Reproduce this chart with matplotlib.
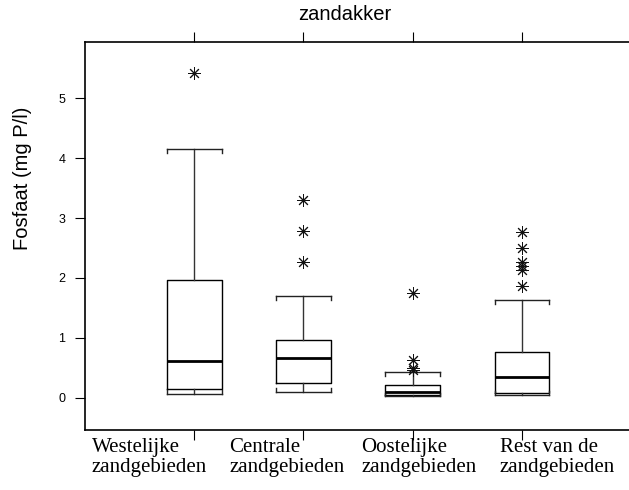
import matplotlib
matplotlib.use("Agg")
import matplotlib.pyplot as plt

# Box statistics (mg P/l)
labels = ["Westelijke\nzandgebieden", "Centrale\nzandgebieden",
          "Oostelijke\nzandgebieden", "Rest van de\nzandgebieden"]
whislo = [0.06, 0.09, 0.02, 0.04]
q1 = [0.14, 0.24, 0.05, 0.08]
med = [0.62, 0.66, 0.09, 0.35]
q3 = [1.97, 0.96, 0.21, 0.77]
whishi = [4.15, 1.70, 0.43, 1.63]
fliers = [
    [5.42],
    [2.27, 2.79, 3.30],
    [0.47, 0.50, 0.63, 1.74],
    [1.87, 2.14, 2.20, 2.27, 2.50, 2.76],
]
yticks = [0, 1, 2, 3, 4, 5]

fig = plt.figure(figsize=(6.29, 4.90), dpi=100)
ax = fig.add_axes([85 / 629, 1 - 430 / 490, 1 - 85 / 629, (430 - 42) / 490])

stats = []
for i in range(len(labels)):
    stats.append({"whislo": whislo[i], "q1": q1[i], "med": med[i], "q3": q3[i],
                  "whishi": whishi[i], "fliers": fliers[i]})

positions = [1, 2, 3, 4]
width = 0.5
ax.bxp(
    stats,
    positions=positions,
    widths=width,
    capwidths=width,
    showfliers=True,
    boxprops={"color": "black", "linewidth": 1.0},
    whiskerprops={"color": "#333333", "linewidth": 1.0},
    capprops={"color": "#222222", "linewidth": 1.0},
    medianprops={"color": "black", "linewidth": 2.0},
    flierprops={"marker": (8, 2, 0), "markersize": 9, "markeredgecolor": "#111111",
                "markeredgewidth": 0.7, "linestyle": "none"},
)

# small bracket ends on the caps
tick_len = 0.065
for p, lo, hi in zip(positions, whislo, whishi):
    for xe in (p - width / 2, p + width / 2):
        ax.plot([xe, xe], [hi, hi - tick_len], color="#222222", lw=1.0)
        ax.plot([xe, xe], [lo, lo + tick_len], color="#222222", lw=1.0)

ax.set_xlim(0, 4.98)
ax.set_ylim(-0.54, 5.94)
ax.set_yticks(yticks)
ax.set_yticklabels([str(t) for t in yticks], fontsize=9, family="Liberation Sans")
ax.set_xticks(positions)
ax.set_xticklabels([])
ax.tick_params(axis="x", top=True, bottom=True, direction="out", length=7, width=0.8)
ax.tick_params(axis="y", direction="out", length=7, width=0.8, pad=7)
ax.spines["right"].set_visible(False)
for s in ["left", "top", "bottom"]:
    ax.spines[s].set_linewidth(1.2)

# category labels below the axis
label_x = [92, 229, 361, 500]
for lx, lab in zip(label_x, labels):
    fig.text(lx / 629, 1 - 438 / 490, lab, ha="left", va="top", multialignment="left",
             fontsize=15, family="Liberation Serif", linespacing=1.05)

fig.text(23 / 629, 1 - 178 / 490, "Fosfaat (mg P/l)", rotation=90, ha="center",
         va="center", fontsize=14.5, family="Liberation Sans")
fig.text(345 / 629, 1 - 15 / 490, "zandakker", ha="center", va="center",
         fontsize=14.5, family="Liberation Sans")

fig.savefig("out.png", dpi=100)
